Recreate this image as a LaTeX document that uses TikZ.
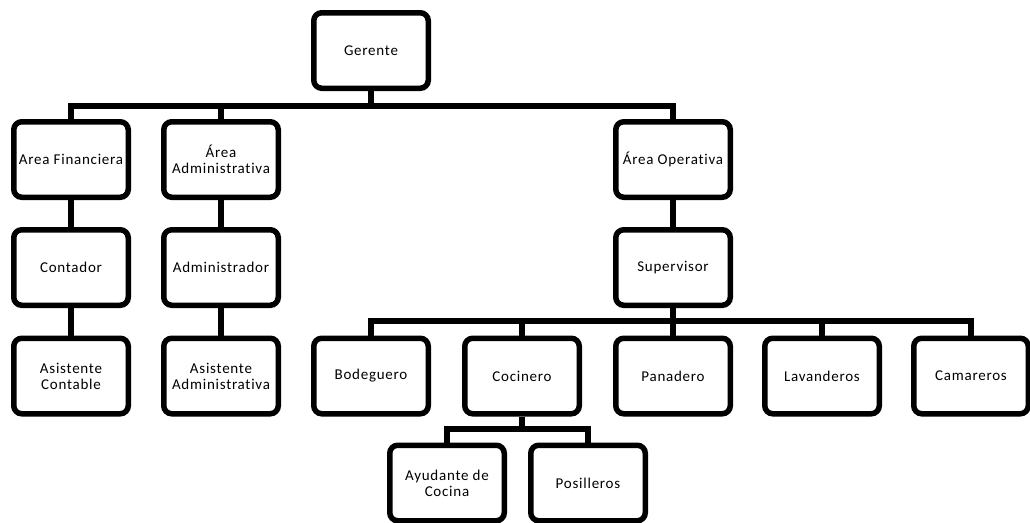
\documentclass[tikz,border=0pt]{standalone}
\usepackage{fontspec}
\setmainfont{Carlito}[LetterSpace=5,Ligatures=NoCommon]
\begin{document}
\begin{tikzpicture}[x=1pt,y=-1pt,
  box/.style={draw=black,line width=5.5pt,rounded corners=8pt,minimum width=114.5pt,minimum height=75.5pt,inner sep=0pt,align=center,font=\fontsize{15}{16}\selectfont,fill=white},
  conn/.style={line width=5.5pt,draw=black}]
\useasboundingbox (0,0) rectangle (1030,522);
% nodes
\node[box] (ger) at (371,50.5) {Gerente};
\node[box] (af) at (71,159.5) {Area Financiera};
\node[box] (aa) at (221,159.5) {Área\\Administrativa};
\node[box] (ao) at (673,159.5) {Área Operativa};
\node[box] (con) at (71,267.5) {Contador};
\node[box] (adm) at (221,267.5) {Administrador};
\node[box] (sup) at (673,267.5) {Supervisor};
\node[box] (asc) at (71,376) {Asistente\\Contable};
\node[box] (asa) at (221,376) {Asistente\\Administrativa};
\node[box] (bod) at (371,376) {Bodeguero};
\node[box] (coc) at (522,376) {Cocinero};
\node[box] (pan) at (673,376) {Panadero};
\node[box] (lav) at (822,376) {Lavanderos};
\node[box] (cam) at (971,376) {Camareros};
\node[box] (ayu) at (447,483) {Ayudante de\\Cocina};
\node[box] (pos) at (588,483) {Posilleros};
% connectors
\coordinate (b1) at (0,106);
\coordinate (b2) at (0,321);
\coordinate (b3) at (0,429);
\draw[conn] (ger.south) -- (ger.south |- b1);
\draw[conn] (af.north) -- (af.north |- b1) -- (ao.north |- b1) -- (ao.north);
\draw[conn] (aa.north) -- (aa.north |- b1);
\draw[conn] (af) -- (con);
\draw[conn] (con) -- (asc);
\draw[conn] (aa) -- (adm);
\draw[conn] (adm) -- (asa);
\draw[conn] (ao) -- (sup);
\draw[conn] (sup.south) -- (sup.south |- b2);
\draw[conn] (bod.north) -- (bod.north |- b2) -- (cam.north |- b2) -- (cam.north);
\draw[conn] (coc.north) -- (coc.north |- b2);
\draw[conn] (pan.north) -- (pan.north |- b2);
\draw[conn] (lav.north) -- (lav.north |- b2);
\draw[conn] (coc.south) -- (coc.south |- b3);
\draw[conn] (ayu.north) -- (ayu.north |- b3) -- (pos.north |- b3) -- (pos.north);
\end{tikzpicture}
\end{document}
